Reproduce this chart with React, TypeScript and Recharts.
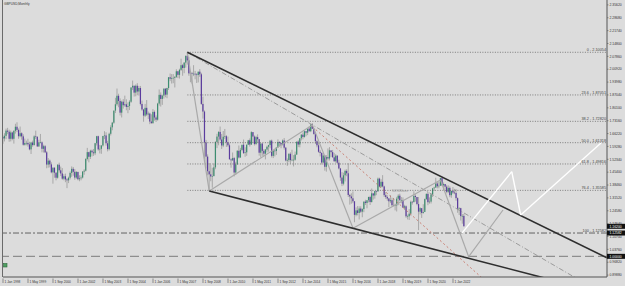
import React from "react";
import { ComposedChart, Bar, XAxis, YAxis, ReferenceLine, ReferenceDot } from "recharts";

// monthly GBPUSD bars: [high, low, close]; open = previous close
type HLC = [number, number, number];

const firstOpen = 1.644;
const y1998: HLC[] = [[1.652,1.607,1.636],[1.664,1.62,1.65],[1.689,1.632,1.678],[1.693,1.659,1.672],[1.683,1.618,1.634],[1.678,1.62,1.668],[1.672,1.626,1.634],[1.68,1.608,1.677],[1.715,1.662,1.699],[1.723,1.67,1.682],[1.69,1.634,1.648],[1.7,1.642,1.664]];
const y1999: HLC[] = [[1.669,1.629,1.647],[1.658,1.597,1.602],[1.635,1.597,1.611],[1.624,1.599,1.612],[1.634,1.592,1.604],[1.618,1.572,1.577],[1.618,1.552,1.614],[1.624,1.591,1.6],[1.653,1.598,1.647],[1.678,1.633,1.644],[1.649,1.59,1.593],[1.629,1.59,1.615]];
const y2000: HLC[] = [[1.66,1.609,1.615],[1.62,1.561,1.58],[1.602,1.56,1.594],[1.6,1.557,1.561],[1.568,1.475,1.495],[1.53,1.478,1.516],[1.522,1.48,1.496],[1.507,1.448,1.453],[1.48,1.392,1.478],[1.48,1.424,1.451],[1.454,1.41,1.424],[1.497,1.419,1.494]];
const y2001: HLC[] = [[1.505,1.452,1.464],[1.484,1.433,1.447],[1.476,1.413,1.419],[1.443,1.41,1.432],[1.446,1.4,1.415],[1.422,1.368,1.41],[1.43,1.395,1.424],[1.458,1.415,1.45],[1.485,1.429,1.472],[1.482,1.435,1.456],[1.471,1.413,1.425],[1.46,1.418,1.455]];
const y2002: HLC[] = [[1.457,1.41,1.416],[1.437,1.405,1.421],[1.437,1.41,1.425],[1.46,1.42,1.457],[1.47,1.44,1.462],[1.53,1.458,1.525],[1.585,1.517,1.562],[1.564,1.507,1.537],[1.575,1.525,1.57],[1.576,1.539,1.561],[1.579,1.542,1.556],[1.612,1.546,1.61]];
const y2003: HLC[] = [[1.65,1.598,1.648],[1.651,1.57,1.577],[1.601,1.555,1.58],[1.6,1.553,1.598],[1.65,1.592,1.649],[1.675,1.632,1.652],[1.669,1.597,1.61],[1.623,1.566,1.578],[1.667,1.571,1.661],[1.707,1.652,1.696],[1.725,1.68,1.721],[1.786,1.715,1.786]];
const y2004: HLC[] = [[1.855,1.773,1.82],[1.905,1.812,1.866],[1.877,1.804,1.838],[1.852,1.76,1.775],[1.84,1.749,1.834],[1.848,1.797,1.815],[1.867,1.807,1.82],[1.847,1.788,1.806],[1.83,1.772,1.811],[1.842,1.789,1.834],[1.911,1.828,1.911],[1.948,1.897,1.92]];
const y2005: HLC[] = [[1.921,1.862,1.883],[1.927,1.863,1.92],[1.934,1.869,1.889],[1.919,1.867,1.908],[1.919,1.814,1.822],[1.84,1.785,1.792],[1.795,1.726,1.759],[1.822,1.751,1.801],[1.843,1.757,1.765],[1.781,1.741,1.77],[1.775,1.713,1.727],[1.766,1.714,1.719]];
const y2006: HLC[] = [[1.794,1.714,1.779],[1.787,1.732,1.749],[1.76,1.725,1.737],[1.828,1.732,1.824],[1.9,1.813,1.871],[1.884,1.808,1.849],[1.872,1.817,1.867],[1.907,1.851,1.904],[1.907,1.858,1.872],[1.909,1.853,1.908],[1.966,1.898,1.966],[1.986,1.945,1.958]];
const y2007: HLC[] = [[1.983,1.932,1.962],[1.983,1.934,1.963],[1.972,1.911,1.968],[2.009,1.962,1.998],[2.0,1.961,1.979],[2.012,1.959,2.006],[2.066,2.0,2.031],[2.038,1.974,2.016],[2.047,1.988,2.045],[2.084,2.018,2.081],[2.1005,2.034,2.057],[2.076,1.974,1.987]];
const y2008: HLC[] = [[1.995,1.939,1.989],[1.995,1.932,1.985],[2.031,1.972,1.985],[2.0,1.955,1.981],[1.988,1.935,1.978],[1.996,1.938,1.996],[2.01,1.968,1.982],[1.99,1.817,1.822],[1.861,1.743,1.781],[1.787,1.526,1.614],[1.628,1.474,1.538],[1.55,1.437,1.459]];
const y2009: HLC[] = [[1.503,1.352,1.442],[1.494,1.405,1.431],[1.478,1.37,1.433],[1.501,1.431,1.48],[1.621,1.47,1.617],[1.661,1.584,1.646],[1.675,1.599,1.671],[1.7,1.62,1.63],[1.66,1.579,1.598],[1.676,1.589,1.645],[1.687,1.633,1.648],[1.654,1.59,1.615]];
const y2010: HLC[] = [[1.646,1.591,1.599],[1.608,1.524,1.523],[1.529,1.478,1.518],[1.56,1.515,1.53],[1.536,1.431,1.452],[1.51,1.439,1.496],[1.573,1.493,1.569],[1.598,1.528,1.533],[1.585,1.532,1.574],[1.6,1.567,1.602],[1.63,1.552,1.557],[1.588,1.537,1.561]];
const y2011: HLC[] = [[1.603,1.542,1.602],[1.628,1.601,1.626],[1.636,1.592,1.603],[1.675,1.601,1.67],[1.67,1.613,1.646],[1.652,1.598,1.606],[1.65,1.6,1.643],[1.658,1.612,1.632],[1.633,1.543,1.559],[1.611,1.533,1.608],[1.611,1.542,1.569],[1.578,1.539,1.554]];
const y2012: HLC[] = [[1.579,1.523,1.576],[1.597,1.561,1.591],[1.602,1.565,1.6],[1.628,1.583,1.624],[1.63,1.533,1.542],[1.573,1.53,1.57],[1.577,1.539,1.568],[1.59,1.547,1.587],[1.631,1.589,1.617],[1.62,1.594,1.612],[1.61,1.583,1.602],[1.631,1.598,1.625]];
const y2013: HLC[] = [[1.638,1.576,1.586],[1.59,1.512,1.517],[1.528,1.488,1.519],[1.556,1.508,1.553],[1.561,1.5,1.519],[1.575,1.513,1.521],[1.546,1.485,1.521],[1.565,1.516,1.549],[1.617,1.547,1.619],[1.626,1.589,1.603],[1.636,1.588,1.637],[1.66,1.625,1.656]];
const y2014: HLC[] = [[1.668,1.631,1.644],[1.678,1.64,1.675],[1.673,1.648,1.667],[1.689,1.654,1.689],[1.7,1.672,1.675],[1.711,1.67,1.711],[1.719,1.689,1.688],[1.693,1.656,1.66],[1.665,1.606,1.621],[1.627,1.588,1.599],[1.614,1.559,1.564],[1.574,1.539,1.558]];
const y2015: HLC[] = [[1.56,1.495,1.506],[1.55,1.502,1.544],[1.546,1.462,1.483],[1.546,1.457,1.535],[1.582,1.517,1.528],[1.589,1.517,1.572],[1.567,1.536,1.562],[1.574,1.533,1.534],[1.558,1.51,1.513],[1.551,1.505,1.543],[1.545,1.5,1.505],[1.521,1.469,1.474]];
const y2016: HLC[] = [[1.477,1.407,1.425],[1.454,1.379,1.392],[1.451,1.383,1.437],[1.468,1.404,1.461],[1.47,1.432,1.448],[1.502,1.32,1.331],[1.337,1.279,1.323],[1.34,1.284,1.313],[1.35,1.287,1.297],[1.297,1.184,1.224],[1.264,1.216,1.248],[1.271,1.221,1.234]];
const y2017: HLC[] = [[1.27,1.199,1.258],[1.27,1.234,1.241],[1.259,1.211,1.255],[1.296,1.238,1.295],[1.305,1.277,1.288],[1.3,1.259,1.303],[1.322,1.291,1.32],[1.327,1.277,1.293],[1.366,1.29,1.34],[1.337,1.306,1.328],[1.352,1.311,1.352],[1.355,1.33,1.35]];
const y2018: HLC[] = [[1.425,1.35,1.419],[1.424,1.372,1.376],[1.416,1.371,1.402],[1.438,1.372,1.377],[1.381,1.32,1.33],[1.347,1.31,1.32],[1.329,1.3,1.312],[1.315,1.266,1.297],[1.33,1.287,1.303],[1.316,1.27,1.276],[1.315,1.27,1.275],[1.284,1.248,1.275]];
const y2019: HLC[] = [[1.321,1.242,1.311],[1.335,1.276,1.327],[1.338,1.296,1.303],[1.32,1.286,1.304],[1.318,1.261,1.263],[1.278,1.251,1.27],[1.275,1.208,1.216],[1.225,1.199,1.216],[1.255,1.196,1.23],[1.301,1.22,1.294],[1.299,1.279,1.293],[1.351,1.29,1.326]];
const y2020: HLC[] = [[1.335,1.295,1.32],[1.32,1.275,1.282],[1.32,1.141,1.241],[1.265,1.226,1.26],[1.25,1.207,1.234],[1.281,1.23,1.239],[1.312,1.248,1.309],[1.339,1.304,1.337],[1.348,1.276,1.292],[1.318,1.284,1.295],[1.339,1.285,1.334],[1.369,1.32,1.367]];
const y2021: HLC[] = [[1.376,1.353,1.371],[1.424,1.37,1.393],[1.402,1.367,1.378],[1.401,1.367,1.381],[1.423,1.38,1.422],[1.425,1.379,1.383],[1.398,1.357,1.39],[1.39,1.36,1.376],[1.384,1.34,1.348],[1.383,1.341,1.369],[1.377,1.319,1.33],[1.354,1.316,1.353]];
const y2022: HLC[] = [[1.374,1.336,1.344],[1.364,1.335,1.342],[1.363,1.3,1.314],[1.318,1.235,1.257],[1.265,1.223,1.26],[1.262,1.193,1.217],[1.228,1.176,1.218],[1.229,1.162,1.162]];

const years = [y1998, y1999, y2000, y2001, y2002, y2003, y2004, y2005, y2006, y2007, y2008, y2009, y2010, y2011, y2012, y2013, y2014, y2015, y2016, y2017, y2018, y2019, y2020, y2021, y2022];

// time axis: a label every 16 months, starting Jan 1998
const timeTicks = [0, 16, 32, 48, 64, 80, 96, 112, 128, 144, 160, 176, 192, 208, 224, 240, 256, 272, 288];
const timeLabels = ["1 Jan 1998", "1 May 1999", "1 Sep 2000", "1 Jan 2002", "1 May 2003", "1 Sep 2004", "1 Jan 2006", "1 May 2007", "1 Sep 2008", "1 Jan 2010", "1 May 2011", "1 Sep 2012", "1 Jan 2014", "1 May 2015", "1 Sep 2016", "1 Jan 2018", "1 May 2019", "1 Sep 2020", "1 Jan 2022"];

const priceTicks = [2.3562, 2.2868, 2.2174, 2.148, 2.0786, 2.0092, 1.9398, 1.8704, 1.801, 1.7316, 1.6622, 1.5928, 1.5234, 1.454, 1.3846, 1.3152, 1.2458, 1.1764, 1.107, 1.0376, 0.9682, 0.8988];

// fibonacci retracement (anchored at the 2007 high)
const fibStart = 118;
const fibLevels = ["0", "23.6", "38.2", "50.0", "61.8", "76.4", "100"];
const fibPrices = [2.10054, 1.87051, 1.7282, 1.61318, 1.49816, 1.35585, 1.12582];

// drawn objects, in [month index, price]
const upperChannel = [[118, 2.10054], [386.5, 0.9921]];
const lowerChannel = [[132, 1.352], [360, 0.854]];
const midDashDot = [[118, 2.10054], [370, 0.8668]];
const redDashed = [[198, 1.7], [310, 0.8581]];
const grayWave = [[118, 2.10054], [132, 1.352], [198, 1.709], [224, 1.152], [280, 1.412], [298, 0.998], [320, 1.25]];
const whiteWave = [[293.6, 1.124], [325.6, 1.457], [331.3, 1.223], [382.7, 1.611]];
const waveText = { i: 254.1, p: 1.3524, text: "50%Wave" };

const priceBoxes = [1.162, 1.12582, 1.0];
const parityLine = 1.0;

const X_MAX = 386.56;
const Y_MIN = 0.8886;
const Y_MAX = 2.3826;
const FONT = "'Liberation Sans', Arial, sans-serif";

const candles = years.flat().map((m, i, all) => ({
  i,
  o: i === 0 ? firstOpen : all[i - 1][2],
  h: m[0],
  l: m[1],
  c: m[2],
}));

const CandleShape = (props: any) => {
  const { x, y, width, height, payload } = props;
  const cx = x + width / 2;
  const top = Math.min(y, y + height);
  const bottom = Math.max(y, y + height);
  const { o, h, l, c } = payload;
  const k = (bottom - top) / (h - l || 1e-9);
  const yO = top + (h - o) * k;
  const yC = top + (h - c) * k;
  const bTop = Math.min(yO, yC);
  const bH = Math.max(Math.abs(yC - yO), 0.6);
  const col = c >= o ? "#3d8d70" : "#5b3c9e";
  return (
    <g>
      <line x1={cx} x2={cx} y1={top} y2={bottom} stroke="#9a9a9a" strokeWidth={0.8} />
      <rect x={cx - 0.6} y={bTop} width={1.2} height={bH} fill={col} />
    </g>
  );
};

const TimeTick = (props: any) => {
  const { x, y, payload } = props;
  const idx = timeTicks.indexOf(payload.value);
  return (
    <g>
      <line x1={x} x2={x} y1={y - 0.5} y2={y + 4} stroke="#555" strokeWidth={0.6} />
      <text x={x + 1.5} y={y + 3.6} fontSize={3.2} fontFamily={FONT} fill="#333">
        {timeLabels[idx]}
      </text>
    </g>
  );
};

const PriceTick = (props: any) => {
  const { y, payload } = props;
  return (
    <g>
      <line x1={607} x2={608.5} y1={y} y2={y} stroke="#555" strokeWidth={0.6} />
      <text x={609.5} y={y + 1.2} fontSize={3.4} fontFamily={FONT} fill="#333">
        {payload.value.toFixed(5)}
      </text>
    </g>
  );
};

const PriceBox = (props: any) => {
  const { cy, value } = props;
  return (
    <g>
      <rect x={607} y={cy - 2.5} width={18} height={5} fill="#111" />
      <text x={609.5} y={cy + 1.2} fontSize={3.4} fontFamily={FONT} fill="#fff">
        {value}
      </text>
    </g>
  );
};

const seg = (pts: number[][], key: string, stroke: string, width: number, dash?: string) =>
  pts.slice(1).map((p, k) => (
    <ReferenceLine
      key={`${key}${k}`}
      segment={[
        { x: pts[k][0], y: pts[k][1] },
        { x: p[0], y: p[1] },
      ]}
      stroke={stroke}
      strokeWidth={width}
      strokeDasharray={dash}
      ifOverflow="hidden"
    />
  ));

export default function App() {
  return (
    <div style={{ position: "absolute", left: 0, top: 0, width: 625, height: 286, background: "#dcdcdc", overflow: "hidden" }}>
      <ComposedChart width={625} height={286} data={candles} margin={{ top: 0, right: 0, bottom: 0, left: 3 }}>
        <XAxis
          dataKey="i"
          type="number"
          domain={[0, X_MAX]}
          allowDataOverflow
          ticks={timeTicks}
          interval={0}
          height={9}
          tickLine={false}
          tickSize={0}
          axisLine={{ stroke: "#555", strokeWidth: 1 }}
          tick={(p: any) => <TimeTick {...p} />}
        />
        <YAxis
          orientation="right"
          type="number"
          domain={[Y_MIN, Y_MAX]}
          allowDataOverflow
          ticks={priceTicks}
          interval={0}
          width={18}
          tickLine={false}
          tickSize={0}
          axisLine={{ stroke: "#555", strokeWidth: 1 }}
          tick={(p: any) => <PriceTick {...p} />}
        />

        {fibPrices.slice(0, 6).map((p, k) => (
          <ReferenceLine
            key={`fib${k}`}
            segment={[
              { x: fibStart, y: p },
              { x: X_MAX, y: p },
            ]}
            stroke="#555"
            strokeWidth={0.7}
            strokeDasharray="1 1.5"
            ifOverflow="visible"
            label={{ value: `${fibLevels[k]} - ${p.toFixed(5)}`, position: "insideBottomRight", offset: 1, fontSize: 3.8, fill: "#444", fontFamily: FONT }}
          />
        ))}
        <ReferenceLine
          y={fibPrices[6]}
          stroke="#444"
          strokeWidth={0.8}
          strokeDasharray="6 2 2 2"
          ifOverflow="visible"
          label={{ value: `${fibLevels[6]} - ${fibPrices[6].toFixed(5)}`, position: "insideBottomRight", offset: 1, fontSize: 3.8, fill: "#444", fontFamily: FONT }}
        />
        <ReferenceLine y={parityLine} stroke="#8e8e8e" strokeWidth={1.4} strokeDasharray="9 4" ifOverflow="visible" />

        {seg(midDashDot, "mid", "#8a8a8a", 0.8, "5 2 1 2")}
        {seg(redDashed, "red", "#c46a5a", 0.8, "2 2.5")}
        {seg(grayWave, "gw", "#a9a9a9", 1.2)}
        {seg(upperChannel, "up", "#2e2e2e", 1.6)}
        {seg(lowerChannel, "lo", "#2e2e2e", 1.6)}

        <Bar dataKey={(d: any) => [d.l, d.h]} barSize={2} shape={CandleShape} isAnimationActive={false} />

        {seg(whiteWave, "ww", "#ffffff", 1.4)}

        <ReferenceDot
          x={waveText.i}
          y={waveText.p}
          r={0}
          fill="none"
          stroke="none"
          label={{ value: waveText.text, position: "center", fontSize: 3.6, fill: "#999", fontFamily: FONT }}
        />

        {priceBoxes.map((p) => (
          <ReferenceDot
            key={`box${p}`}
            x={X_MAX}
            y={p}
            ifOverflow="visible"
            shape={(s: any) => <PriceBox {...s} value={p.toFixed(5)} />}
          />
        ))}
      </ComposedChart>
      <svg width={625} height={286} style={{ position: "absolute", left: 0, top: 0, pointerEvents: "none" }}>
        <line x1={2.5} x2={2.5} y1={0} y2={277} stroke="#6a6a6a" strokeWidth={1} />
        <text x={4} y={4.5} fontSize={3.2} fontFamily={FONT} fill="#333">GBPUSD,Monthly</text>
        <rect x={3.5} y={263.5} width={3.5} height={3.5} fill="#4f9f62" stroke="#2f6b3d" strokeWidth={0.6} />
      </svg>
    </div>
  );
}
